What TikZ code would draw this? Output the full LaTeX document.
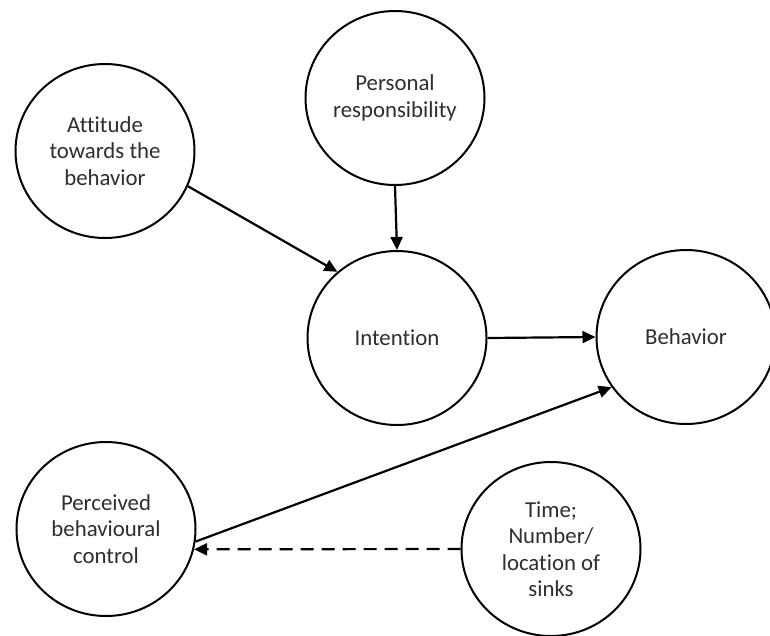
\documentclass[tikz,border=0pt]{standalone}
\usepackage{fontspec}
\setmainfont{Carlito}[Ligatures=NoCommon]
\usetikzlibrary{shapes.geometric,arrows.meta}
\begin{document}
\begin{tikzpicture}[x=1pt,y=-1pt,
  bubble/.style={ellipse,draw=black,line width=2pt,minimum width=179pt,minimum height=174pt,inner sep=0pt,align=center,font=\fontsize{22.8}{26.5}\selectfont,text=black!82},
  link/.style={line width=2.2pt,-{Triangle[length=13pt,width=12pt]}},
  dlink/.style={link,dash pattern=on 13pt off 8pt}]
\useasboundingbox (0,0) rectangle (770,635);
\fill[white] (0,0) rectangle (770,635);
\node[bubble] (att) at (105,151) {Attitude\\towards the\\behavior};
\node[bubble] (pers) at (395,98) {Personal\\responsibility};
\node[bubble] (int) at (397,338) {Intention};
\node[bubble] (beh) at (686,337) {Behavior};
\node[bubble] (perc) at (106,529) {Perceived\\behavioural\\control};
\node[bubble] (time) at (551,549) {Time;\\Number/\\location of\\sinks};
\draw[link] (att.-23) -- (int.132);
\draw[link] (pers.south) -- (int.north);
\draw[link] (int.east) -- (beh.west);
\draw[link] (perc.-8) -- (beh.214);
\draw[dlink] (time.west) -- (perc.-13);
\end{tikzpicture}
\end{document}
